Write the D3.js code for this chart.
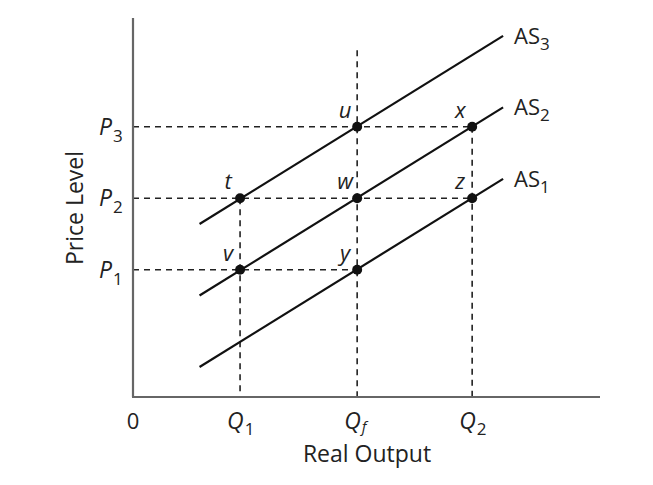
<!DOCTYPE html>
<html>
<head>
<meta charset="utf-8">
<script src="https://cdn.jsdelivr.net/npm/d3@7"></script>
<style>
  body { margin: 0; background: #fff; }
  svg { display: block; }
  text { font-family: "Open Sans", sans-serif; fill: #222; }
</style>
</head>
<body>
<div id="chart"></div>
<script>
// ---- data (data units) ----
const qNames = ["Q1", "Qf", "Q2"];
const qSubs = ["1", "f", "2"];
const qValues = [0.917, 1.92, 2.905];

const pNames = ["P1", "P2", "P3"];
const pSubs = ["1", "2", "3"];
const pValues = [1.78, 2.78, 3.78];

const curveNames = ["AS1", "AS2", "AS3"];
const curveSubs = ["1", "2", "3"];
const curveStartX = [0.57, 0.57, 0.57];
const curveStartY = [0.42, 1.42, 2.42];
const curveEndX = [3.17, 3.17, 3.17];
const curveEndY = [3.05, 4.05, 5.05];

// points: [label, q index, p index]
const pointLabels = ["t", "u", "v", "w", "x", "y", "z"];
const pointQ = [0, 1, 0, 1, 2, 1, 2];
const pointP = [1, 2, 0, 1, 2, 0, 1];

// dashed guides: horizontal from axis to q index; vertical from p index to axis
const hGuideP = [2, 1, 0];
const hGuideToQ = [2, 2, 1];
const vGuideQ = [0, 1, 2];
const vGuideFromY = [2.78, 4.85, 3.78];

const xAxisTitle = "Real Output";
const yAxisTitle = "Price Level";

// ---- layout ----
const W = 653, H = 485;
const x = d3.scaleLinear().domain([0, 4]).range([133, 600]);
const y = d3.scaleLinear().domain([0, 5.3]).range([397, 18]);

const svg = d3.select("#chart").append("svg").attr("width", W).attr("height", H);

const dash = "6,5";
const g = svg.append("g");

hGuideP.forEach((pi, i) => {
  g.append("line")
    .attr("x1", x(0)).attr("x2", x(qValues[hGuideToQ[i]]))
    .attr("y1", y(pValues[pi])).attr("y2", y(pValues[pi]))
    .attr("stroke", "#222").attr("stroke-width", 1.6).attr("stroke-dasharray", dash);
});
vGuideQ.forEach((qi, i) => {
  g.append("line")
    .attr("x1", x(qValues[qi])).attr("x2", x(qValues[qi]))
    .attr("y1", y(vGuideFromY[i])).attr("y2", y(0))
    .attr("stroke", "#222").attr("stroke-width", 1.6).attr("stroke-dasharray", dash);
});

// axes
g.append("line").attr("x1", x(0)).attr("x2", x(0)).attr("y1", y(5.3)).attr("y2", y(0))
  .attr("stroke", "#666").attr("stroke-width", 2.2);
g.append("line").attr("x1", x(0) - 1).attr("x2", x(4)).attr("y1", y(0)).attr("y2", y(0))
  .attr("stroke", "#666").attr("stroke-width", 2.2);

// AS curves
const lineGen = d3.line().x(d => x(d[0])).y(d => y(d[1]));
curveNames.forEach((n, i) => {
  g.append("path")
    .attr("d", lineGen([[curveStartX[i], curveStartY[i]], [curveEndX[i], curveEndY[i]]]))
    .attr("fill", "none").attr("stroke", "#111").attr("stroke-width", 2.2);
  const t = g.append("text")
    .attr("x", x(curveEndX[i]) + 11)
    .attr("y", y(curveEndY[i]) + 8)
    .attr("font-size", 22);
  t.append("tspan").text("AS");
  t.append("tspan").attr("font-size", 17).attr("dy", 6).text(curveSubs[i]);
});

// points
pointLabels.forEach((lab, i) => {
  const cx = x(qValues[pointQ[i]]), cy = y(pValues[pointP[i]]);
  g.append("circle").attr("cx", cx).attr("cy", cy).attr("r", 5).attr("fill", "#111");
  g.append("text")
    .attr("x", cx - 12).attr("y", cy - 9)
    .attr("text-anchor", "middle")
    .attr("font-size", 22).attr("font-style", "italic")
    .text(lab);
});

// P labels
pNames.forEach((n, i) => {
  const t = g.append("text")
    .attr("x", 99).attr("y", y(pValues[i]) + 8)
    .attr("font-size", 23);
  t.append("tspan").attr("font-style", "italic").text("P");
  t.append("tspan").attr("font-size", 17).attr("dy", 7).attr("dx", 1).text(pSubs[i]);
});

// Q labels
qNames.forEach((n, i) => {
  const t = g.append("text")
    .attr("x", x(qValues[i]) - 13).attr("y", 429)
    .attr("font-size", 23);
  t.append("tspan").attr("font-style", "italic").text("Q");
  const isF = qSubs[i] === "f";
  t.append("tspan").attr("font-size", isF ? 15 : 17).attr("dy", isF ? 3 : 6).attr("dx", 1)
    .attr("font-style", isF ? "italic" : "normal").text(qSubs[i]);
});
g.append("text").attr("x", x(0)).attr("y", 429).attr("text-anchor", "middle")
  .attr("font-size", 22).text("0");

// axis titles
g.append("text").attr("x", 367).attr("y", 462).attr("text-anchor", "middle")
  .attr("font-size", 23).text(xAxisTitle);
g.append("text").attr("transform", "translate(83,208) rotate(-90)")
  .attr("text-anchor", "middle").attr("font-size", 23).text(yAxisTitle);
</script>
</body>
</html>
